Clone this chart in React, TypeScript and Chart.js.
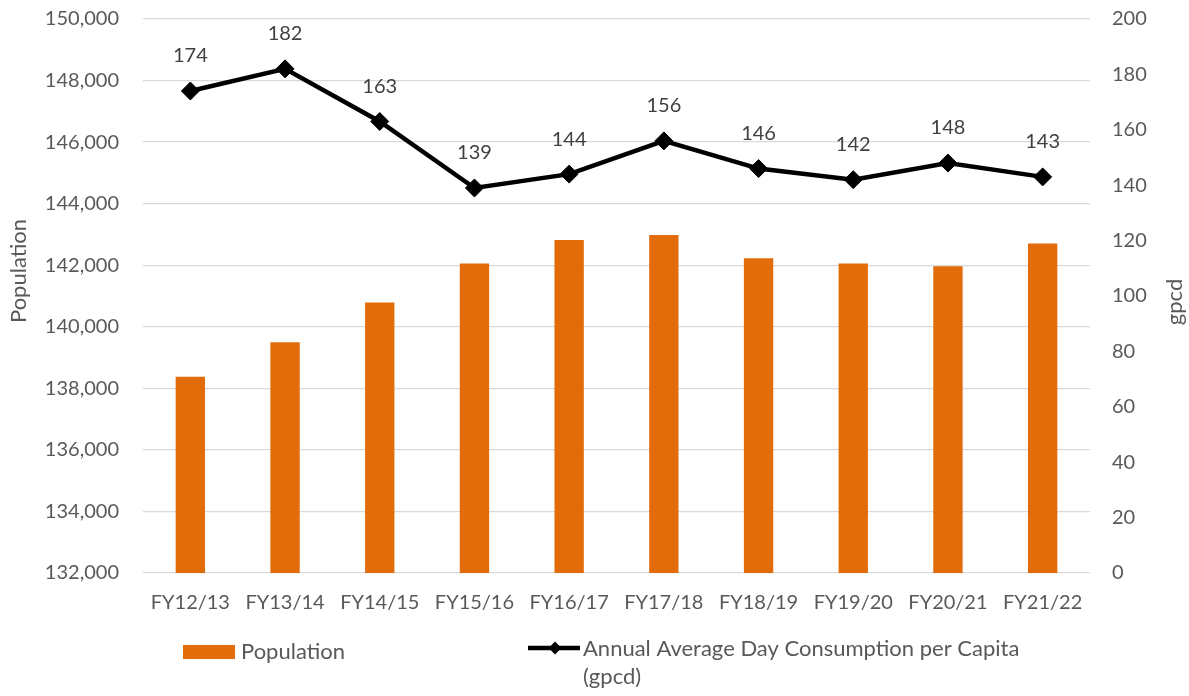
import React, { useEffect, useRef } from "react";
import { Chart, registerables } from "chart.js";

Chart.register(...registerables);

const categories = ["FY12/13", "FY13/14", "FY14/15", "FY15/16", "FY16/17", "FY17/18", "FY18/19", "FY19/20", "FY20/21", "FY21/22"];
const population = [138376, 139494, 140791, 142060, 142820, 142980, 142230, 142055, 141968, 142705];
const gpcd = [174, 182, 163, 139, 144, 156, 146, 142, 148, 143];
const populationLabel = "Population";
const gpcdLabelLines = ["Annual Average Day Consumption per Capita", "(gpcd)"];
const leftTitle = "Population";
const rightTitle = "gpcd";

const FONT = "Lato, 'Open Sans', sans-serif";
const TICK_COLOR = "#595959";
const LABEL_COLOR = "#404040";
const BAR_COLOR = "#E36C0A";

const overlayPlugin = {
  id: "overlay",
  afterDatasetsDraw(chart: any) {
    const ctx = chart.ctx;
    const meta = chart.getDatasetMeta(1);
    ctx.save();
    ctx.font = `20px ${FONT}`;
    ctx.fillStyle = LABEL_COLOR;
    ctx.textAlign = "center";
    ctx.textBaseline = "middle";
    meta.data.forEach((pt: any, i: number) => {
      ctx.fillText(String(Math.round(gpcd[i])), pt.x, pt.y - 35);
    });
    ctx.restore();
  },
  afterDraw(chart: any) {
    const ctx = chart.ctx;
    ctx.save();
    ctx.font = `22px ${FONT}`;
    ctx.fillStyle = TICK_COLOR;
    // axis titles
    ctx.textAlign = "center";
    ctx.textBaseline = "middle";
    ctx.save();
    ctx.translate(19, 271);
    ctx.rotate(-Math.PI / 2);
    ctx.fillText(leftTitle, 0, 0);
    ctx.restore();
    ctx.save();
    ctx.translate(1175, 302);
    ctx.rotate(-Math.PI / 2);
    ctx.fillText(rightTitle, 0, 0);
    ctx.restore();

    // legend
    ctx.fillStyle = BAR_COLOR;
    ctx.fillRect(183, 645, 52, 14);
    ctx.fillStyle = TICK_COLOR;
    ctx.textAlign = "left";
    ctx.textBaseline = "alphabetic";
    ctx.fillText(populationLabel, 241, 659);

    ctx.strokeStyle = "#000";
    ctx.lineWidth = 4.5;
    ctx.beginPath();
    ctx.moveTo(528, 648);
    ctx.lineTo(580, 648);
    ctx.stroke();
    ctx.fillStyle = "#000";
    ctx.beginPath();
    const cx = 555, cy = 648, r = 6.5;
    ctx.moveTo(cx - r, cy);
    ctx.lineTo(cx, cy - r);
    ctx.lineTo(cx + r, cy);
    ctx.lineTo(cx, cy + r);
    ctx.closePath();
    ctx.fill();

    ctx.fillStyle = TICK_COLOR;
    ctx.fillText(gpcdLabelLines[0], 583, 656);
    ctx.fillText(gpcdLabelLines[1], 583, 684);
    ctx.restore();
  },
};

export default function App() {
  const ref = useRef<HTMLCanvasElement>(null);

  useEffect(() => {
    document.body.style.margin = "0";
    const canvas = ref.current;
    if (!canvas) return;
    const chart = new Chart(canvas, {
      type: "bar",
      data: {
        labels: categories,
        datasets: [
          {
            type: "bar",
            label: populationLabel,
            data: population,
            backgroundColor: BAR_COLOR,
            borderWidth: 0,
            barPercentage: 0.31,
            categoryPercentage: 1,
            yAxisID: "y",
            order: 2,
          },
          {
            type: "line",
            label: gpcdLabelLines.join(" "),
            data: gpcd,
            borderColor: "#000",
            backgroundColor: "#000",
            borderWidth: 4.5,
            pointStyle: "rectRot",
            pointRadius: 9,
            pointBorderWidth: 1,
            pointBackgroundColor: "#000",
            pointBorderColor: "#000",
            tension: 0,
            yAxisID: "y1",
            order: 1,
          } as any,
        ],
      },
      options: {
        animation: false,
        responsive: false,
        maintainAspectRatio: false,
        layout: { padding: { top: 19, left: 0, right: 0, bottom: 73 } },
        plugins: {
          legend: { display: false },
          tooltip: { enabled: false },
          title: { display: false },
        },
        scales: {
          x: {
            grid: { display: false, drawTicks: false },
            border: { display: false },
            ticks: {
              color: TICK_COLOR,
              font: { family: FONT, size: 20 },
              padding: 18,
              maxRotation: 0,
              autoSkip: false,
            },
            afterFit: (s: any) => {
              s.height = 50;
            },
          },
          y: {
            position: "left",
            min: 132000,
            max: 150000,
            grid: { color: "#D9D9D9", lineWidth: 1.3, drawTicks: false },
            border: { display: false },
            ticks: {
              stepSize: 2000,
              color: TICK_COLOR,
              font: { family: FONT, size: 20 },
              padding: 24,
              callback: (v: any) => Number(v).toLocaleString("en-US"),
            },
            afterFit: (s: any) => {
              s.width = 143;
              s.paddingTop = 0;
              s.paddingBottom = 0;
            },
          },
          y1: {
            position: "right",
            min: 0,
            max: 200,
            grid: { display: false, drawTicks: false },
            border: { display: false },
            ticks: {
              stepSize: 20,
              color: TICK_COLOR,
              font: { family: FONT, size: 20 },
              padding: 22,
            },
            afterFit: (s: any) => {
              s.width = 99;
              s.paddingTop = 0;
              s.paddingBottom = 0;
            },
          },
        },
      },
      plugins: [overlayPlugin],
    });
    return () => chart.destroy();
  }, []);

  return (
    <div style={{ position: "absolute", left: 0, top: 0, width: 1189, height: 696, background: "#fff" }}>
      <canvas ref={ref} width={1189} height={696} />
    </div>
  );
}
